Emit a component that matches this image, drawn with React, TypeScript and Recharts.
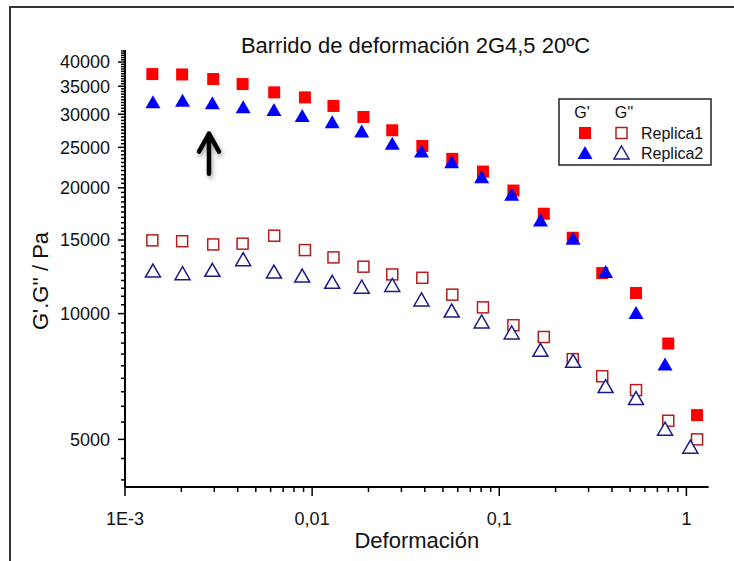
import React from 'react'
import { ScatterChart, Scatter, XAxis, YAxis, ReferenceLine } from 'recharts'

// strain amplitude (x) and moduli in Pa
const strainR1 = [0.0014, 0.00202, 0.00296, 0.00425, 0.00627, 0.00915, 0.013, 0.0188, 0.0268, 0.0388, 0.0561, 0.0818, 0.119, 0.173, 0.247, 0.355, 0.538, 0.8, 1.14]
const strainR2 = [0.00141, 0.00203, 0.00293, 0.00428, 0.00625, 0.00885, 0.0128, 0.0184, 0.0268, 0.0384, 0.0557, 0.0805, 0.1165, 0.166, 0.248, 0.37, 0.538, 0.769, 1.05]
const gPrimeR1 = [37430, 37350, 36420, 35430, 33840, 32920, 31400, 29550, 27460, 25180, 23460, 21870, 19700, 17340, 15190, 12500, 11200, 8480, 5715]
const gPrimeR2 = [32030, 32330, 31850, 31160, 30710, 29720, 28690, 27260, 25480, 24420, 23020, 21210, 19250, 16710, 15110, 12570, 10030, 7550, 4800]
const gDoubleR1 = [14970, 14900, 14640, 14700, 15360, 14190, 13630, 12950, 12410, 12180, 11100, 10350, 9380, 8790, 7780, 7080, 6560, 5540, 5000]
const gDoubleR2 = [12640, 12460, 12690, 13460, 12570, 12300, 11880, 11570, 11680, 10780, 10140, 9550, 8990, 8170, 7690, 6690, 6260, 5290, 4790]

const xMajor = [0.001, 0.01, 0.1, 1]
const xLabels = ['1E-3', '0,01', '0,1', '1']
const yMajor = [5000, 10000, 15000, 20000, 25000, 30000, 35000, 40000]

const xTicks: number[] = [...xMajor]
for (const d of [0.001, 0.01, 0.1]) for (let k = 2; k <= 9; k++) xTicks.push(d * k)
const yTicks: number[] = []
for (let v = 4000; v <= 42500; v += 500) yTicks.push(v)

// arrow annotation (strain, Pa)
const arrowX = 0.00281
const arrowTip = 27260
const arrowBase = 21600

const toPoints = (xs: number[], ys: number[]) => xs.map((x, i) => ({ x, y: ys[i] }))

const FONT = '"Liberation Sans", Arial, sans-serif'

function XTick(props: any) {
  const { x, y, payload } = props
  const i = xMajor.indexOf(payload.value)
  const major = i >= 0
  return (
    <g>
      <line x1={x} x2={x} y1={y} y2={y + (major ? 9 : 5)} stroke="#000" strokeWidth={1.5} />
      {major && (
        <text x={x} y={y + 32} dy="0.35em" textAnchor="middle" fontSize={18} fontFamily={FONT} fill="#111">
          {xLabels[i]}
        </text>
      )}
    </g>
  )
}

function YTick(props: any) {
  const { x, y, payload } = props
  const major = yMajor.includes(payload.value)
  return (
    <g>
      <line x1={x - (major ? 7 : 4)} x2={x} y1={y} y2={y} stroke="#000" strokeWidth={1.5} />
      {major && (
        <text x={x - 15} y={y} dy="0.35em" textAnchor="end" fontSize={18} fontFamily={FONT} fill="#111">
          {payload.value}
        </text>
      )}
    </g>
  )
}

const FilledSquare = (p: any) => <rect x={p.cx - 6} y={p.cy - 6} width={12} height={12} fill="#FF0000" />
const OpenSquare = (p: any) => (
  <rect x={p.cx - 5.5} y={p.cy - 5.5} width={11} height={11} fill="#fff" stroke="#B71C1C" strokeWidth={1.5} />
)
const FilledTriangle = (p: any) => (
  <path d={`M${p.cx},${p.cy - 7}L${p.cx + 7.5},${p.cy + 6}L${p.cx - 7.5},${p.cy + 6}Z`} fill="#0000FF" />
)
const OpenTriangle = (p: any) => (
  <path
    d={`M${p.cx},${p.cy - 7}L${p.cx + 7.5},${p.cy + 6}L${p.cx - 7.5},${p.cy + 6}Z`}
    fill="#fff"
    stroke="#1A1A8C"
    strokeWidth={1.5}
  />
)

const ArrowShape = (p: any) => {
  const { x1, y1, y2 } = p
  const tipY = Math.min(y1, y2)
  const baseY = Math.max(y1, y2)
  return (
    <g filter="url(#arrowShadow)">
      <path
        d={`M${x1},${baseY}L${x1},${tipY + 2}M${x1 - 10},${tipY + 20}L${x1},${tipY + 2}L${x1 + 10},${tipY + 20}`}
        stroke="#000"
        strokeWidth={4.5}
        fill="none"
        strokeLinecap="round"
        strokeLinejoin="round"
      />
    </g>
  )
}

function Legend() {
  const tri = (cx: number, cy: number) => `M${cx},${cy - 7}L${cx + 7.5},${cy + 6}L${cx - 7.5},${cy + 6}Z`
  return (
    <g transform="translate(559,99)" fontFamily={FONT} fontSize={16} fill="#111">
      <rect x={0} y={0} width={152} height={66} fill="#fff" stroke="#222" strokeWidth={1.5} />
      <text x={23} y={13} dy="0.35em" textAnchor="middle">G'</text>
      <text x={65} y={13} dy="0.35em" textAnchor="middle">G''</text>
      <rect x={20} y={28} width={12} height={12} fill="#FF0000" />
      <rect x={57} y={28.5} width={11} height={11} fill="#fff" stroke="#B71C1C" strokeWidth={1.5} />
      <text x={82} y={34} dy="0.35em">Replica1</text>
      <path d={tri(26, 54)} fill="#0000FF" />
      <path d={tri(62.5, 54)} fill="#fff" stroke="#1A1A8C" strokeWidth={1.5} />
      <text x={82} y={54} dy="0.35em">Replica2</text>
    </g>
  )
}

export default function App() {
  return (
    <div style={{ position: 'absolute', left: 0, top: 0, width: 734, height: 561, background: '#fff' }}>
      <div
        style={{
          position: 'absolute', left: 9, top: 6, right: 0, bottom: 0,
          borderLeft: '2px solid #333', borderTop: '2px solid #333',
        }}
      />
      <ScatterChart width={734} height={561} margin={{ top: 50, right: 25.4, bottom: 0, left: 0 }}>
        <defs>
          <filter id="arrowShadow" x="-50%" y="-20%" width="200%" height="150%">
            <feDropShadow dx={1.5} dy={3} stdDeviation={2} floodColor="#000" floodOpacity={0.35} />
          </filter>
        </defs>
        <XAxis
          dataKey="x"
          type="number"
          scale="log"
          domain={[0.001, 1.314]}
          allowDataOverflow
          ticks={xTicks}
          interval={0}
          tick={<XTick />}
          tickLine={false}
          tickSize={0}
          tickMargin={0}
          axisLine={{ stroke: '#000', strokeWidth: 2 }}
          height={74}
        />
        <YAxis
          dataKey="y"
          type="number"
          scale="log"
          domain={[3846, 42740]}
          allowDataOverflow
          ticks={yTicks}
          interval={0}
          tick={<YTick />}
          tickLine={false}
          tickSize={0}
          tickMargin={0}
          axisLine={{ stroke: '#000', strokeWidth: 2 }}
          width={125}
        />
        <Scatter data={toPoints(strainR1, gPrimeR1)} shape={FilledSquare} isAnimationActive={false} />
        <Scatter data={toPoints(strainR2, gPrimeR2)} shape={FilledTriangle} isAnimationActive={false} />
        <Scatter data={toPoints(strainR1, gDoubleR1)} shape={OpenSquare} isAnimationActive={false} />
        <Scatter data={toPoints(strainR2, gDoubleR2)} shape={OpenTriangle} isAnimationActive={false} />
        <ReferenceLine
          segment={[{ x: arrowX, y: arrowTip }, { x: arrowX, y: arrowBase }]}
          shape={ArrowShape}
        />
      </ScatterChart>
      <svg width={734} height={561} style={{ position: 'absolute', left: 0, top: 0, pointerEvents: 'none' }}>
        <text x={415.5} y={53} textAnchor="middle" fontSize={22} fontFamily={FONT} fill="#111">
          Barrido de deformación 2G4,5 20ºC
        </text>
        <text
          transform="translate(48,281) rotate(-90)"
          textAnchor="middle"
          fontSize={22}
          fontFamily={FONT}
          fill="#111"
        >
          G'.G'' / Pa
        </text>
        <text x={416.8} y={548} textAnchor="middle" fontSize={22} fontFamily={FONT} fill="#111">
          Deformación
        </text>
        <Legend />
      </svg>
    </div>
  )
}
